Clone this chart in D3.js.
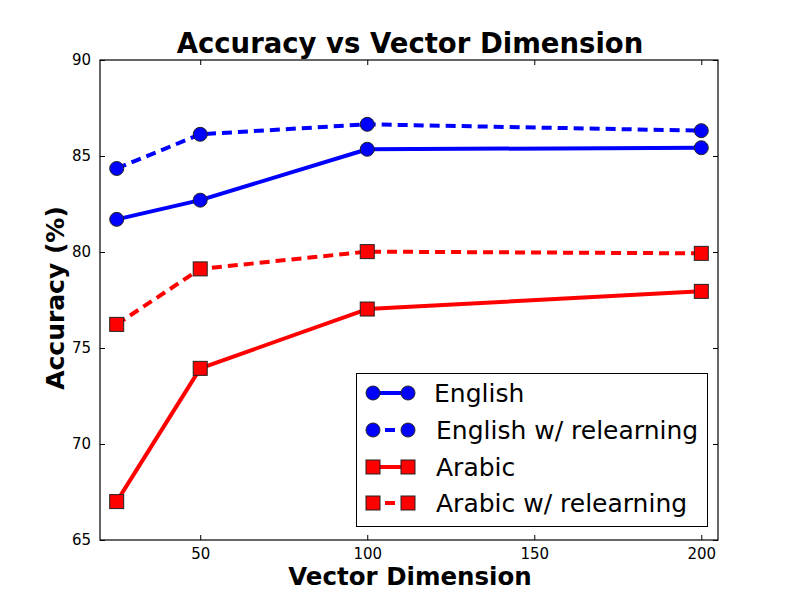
<!DOCTYPE html>
<html><head><meta charset="utf-8">
<script src="https://cdn.jsdelivr.net/npm/d3@7"></script>
<style>body{margin:0;background:#fff}svg{font-family:"DejaVu Sans",sans-serif}</style>
</head><body><svg id="c" width="800" height="600"></svg>
<script>
const dims = [25, 50, 100, 200];
const english = [81.7, 82.7, 85.35, 85.43];
const englishRelearn = [84.35, 86.13, 86.65, 86.32];
const arabic = [67.0, 73.94, 77.03, 77.95];
const arabicRelearn = [76.23, 79.12, 80.02, 79.93];
const seriesNames = ["English", "English w/ relearning", "Arabic", "Arabic w/ relearning"];
const xTicks = [50, 100, 150, 200];
const yTicks = [65, 70, 75, 80, 85, 90];

const series = [
  {name: seriesNames[0], vals: english, color: "#0000ff", dash: null, marker: "circle"},
  {name: seriesNames[1], vals: englishRelearn, color: "#0000ff", dash: "10,6", marker: "circle"},
  {name: seriesNames[2], vals: arabic, color: "#ff0000", dash: null, marker: "square"},
  {name: seriesNames[3], vals: arabicRelearn, color: "#ff0000", dash: "10,6", marker: "square"}
];

const FF = "'DejaVu Sans', sans-serif";
const svg = d3.select("#c");
const L = 100, R = 718, T = 60, B = 540;
const x = d3.scaleLinear().domain([20, 205]).range([L, R]);
const y = d3.scaleLinear().domain([65, 90]).range([B, T]);

const fmt = d => d;
svg.append("g").attr("transform", `translate(0,${B})`)
  .call(d3.axisBottom(x).tickValues(xTicks).tickSizeInner(-5).tickSizeOuter(0).tickPadding(8).tickFormat(fmt))
  .call(g => g.select(".domain").remove())
  .call(g => g.attr("font-size", null).attr("font-family", null))
  .call(g => g.selectAll("text").style("font-size", "15px").style("font-family", FF).attr("fill", "#000"));
svg.append("g").attr("transform", `translate(0,${T})`)
  .call(d3.axisTop(x).tickValues(xTicks).tickSizeInner(-5).tickSizeOuter(0).tickFormat(""))
  .call(g => g.select(".domain").remove());
svg.append("g").attr("transform", `translate(${L},0)`)
  .call(d3.axisLeft(y).tickValues(yTicks).tickSizeInner(-5).tickSizeOuter(0).tickPadding(9).tickFormat(fmt))
  .call(g => g.select(".domain").remove())
  .call(g => g.attr("font-size", null).attr("font-family", null))
  .call(g => g.selectAll("text").style("font-size", "15px").style("font-family", FF).attr("fill", "#000"));
svg.append("g").attr("transform", `translate(${R},0)`)
  .call(d3.axisRight(y).tickValues(yTicks).tickSizeInner(-5).tickSizeOuter(0).tickFormat(""))
  .call(g => g.select(".domain").remove());

const line = d3.line().x((d, i) => x(dims[i])).y(d => y(d));

function drawMarker(g, type, cx, cy, color) {
  if (type === "circle") {
    g.append("circle").attr("cx", cx).attr("cy", cy).attr("r", 7)
      .attr("fill", color).attr("stroke", "#222").attr("stroke-width", 1);
  } else {
    g.append("rect").attr("x", cx - 7).attr("y", cy - 7).attr("width", 14).attr("height", 14)
      .attr("fill", color).attr("stroke", "#222").attr("stroke-width", 1);
  }
}

const plot = svg.append("g");
series.forEach(s => {
  plot.append("path").datum(s.vals).attr("d", line)
    .attr("fill", "none").attr("stroke", s.color).attr("stroke-width", 4)
    .attr("stroke-dasharray", s.dash).attr("stroke-linejoin", "round");
  s.vals.forEach((v, i) => drawMarker(plot, s.marker, x(dims[i]), y(v), s.color));
});

svg.append("rect").attr("x", L).attr("y", T).attr("width", R - L).attr("height", B - T)
  .attr("fill", "none").attr("stroke", "#000").attr("stroke-width", 1.2);

const lg = svg.append("g");
lg.append("rect").attr("x", 356.5).attr("y", 373.5).attr("width", 351).attr("height", 153)
  .attr("fill", "#fff").attr("stroke", "#000").attr("stroke-width", 1);
const legY = [393, 430, 467, 503];
series.forEach((s, i) => {
  const ly = legY[i];
  lg.append("line").attr("x1", 373).attr("x2", 408).attr("y1", ly).attr("y2", ly)
    .attr("stroke", s.color).attr("stroke-width", 4)
    .attr("stroke-dasharray", s.dash ? "0,12,10,30" : null);
  drawMarker(lg, s.marker, 373, ly, s.color);
  drawMarker(lg, s.marker, 408, ly, s.color);
  lg.append("text").attr("x", i === 0 ? 434 : 436).attr("y", ly).attr("dy", "0.36em")
    .style("font-size", "25px").style("font-family", FF).text(s.name);
});

svg.append("text").attr("x", 410).attr("y", 53).attr("text-anchor", "middle")
  .style("font-size", "27.5px").style("font-weight", "bold").style("font-family", FF)
  .text("Accuracy vs Vector Dimension");
svg.append("text").attr("x", 410).attr("y", 585).attr("text-anchor", "middle")
  .style("font-size", "24.5px").style("font-weight", "bold").style("font-family", FF)
  .text("Vector Dimension");
svg.append("text").attr("transform", "translate(64,298) rotate(-90)").attr("text-anchor", "middle")
  .style("font-size", "25px").style("font-weight", "bold").style("font-family", FF)
  .text("Accuracy (%)");
</script></body></html>
